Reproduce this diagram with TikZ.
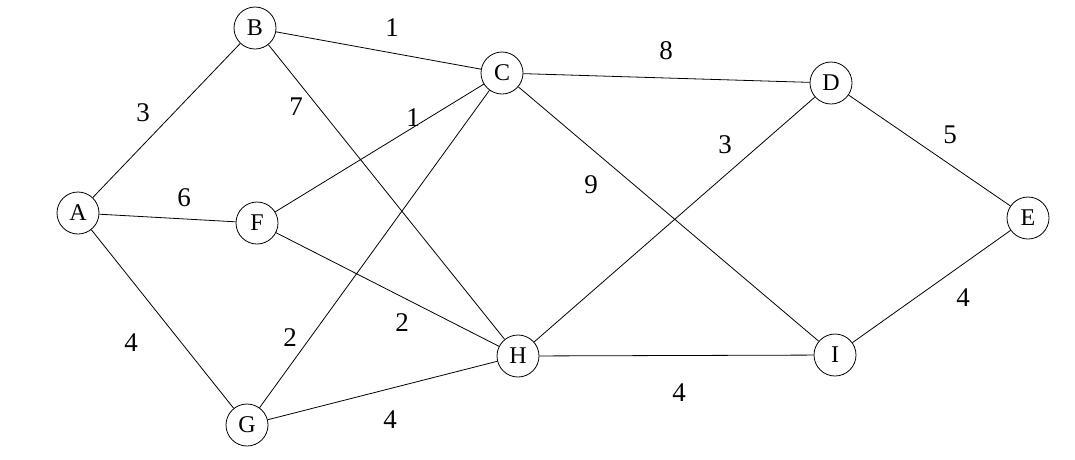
\documentclass[tikz,border=0pt]{standalone}
\usepackage{fontspec}
\setmainfont{Liberation Serif}

\begin{document}
\begin{tikzpicture}[x=1pt,y=-1pt,line width=0.8pt,
  vertex/.style={draw,circle,minimum size=42pt,inner sep=0pt,font=\fontsize{24}{24}\selectfont},
  weight/.style={font=\fontsize{27}{27}\selectfont}]
  \useasboundingbox (0,0) rectangle (1075,459);
  \node[vertex] (A) at (78,213) {A};
  \node[vertex] (B) at (255,28) {B};
  \node[vertex] (C) at (502,73) {C};
  \node[vertex] (D) at (831,83) {D};
  \node[vertex] (E) at (1028,218) {E};
  \node[vertex] (F) at (257,223) {F};
  \node[vertex] (G) at (247,425) {G};
  \node[vertex] (H) at (518,356) {H};
  \node[vertex] (I) at (835,355) {I};
  \draw (A) -- (B) -- (C) -- (D) -- (E) -- (I) -- (H) -- (G) -- (A) -- (F) -- (C) -- (G)
  (B) -- (H) -- (F)
  (C) -- (I)
  (H) -- (D);
  \node[weight] (ab) at (143,113) {3};
  \node[weight] (af) at (184,198) {6};
  \node[weight] (ag) at (131,343) {4};
  \node[weight] (bc) at (392,28) {1};
  \node[weight] (bh) at (296,107) {7};
  \node[weight] (fc) at (413,118) {1};
  \node[weight] (fh) at (402,323) {2};
  \node[weight] (gc) at (290,338) {2};
  \node[weight] (gh) at (390,420) {4};
  \node[weight] (cd) at (666,51) {8};
  \node[weight] (ci) at (591,185) {9};
  \node[weight] (hd) at (725,145) {3};
  \node[weight] (hi) at (679,393) {4};
  \node[weight] (de) at (950,135) {5};
  \node[weight] (ie) at (963,298) {4};
\end{tikzpicture}
\end{document}
